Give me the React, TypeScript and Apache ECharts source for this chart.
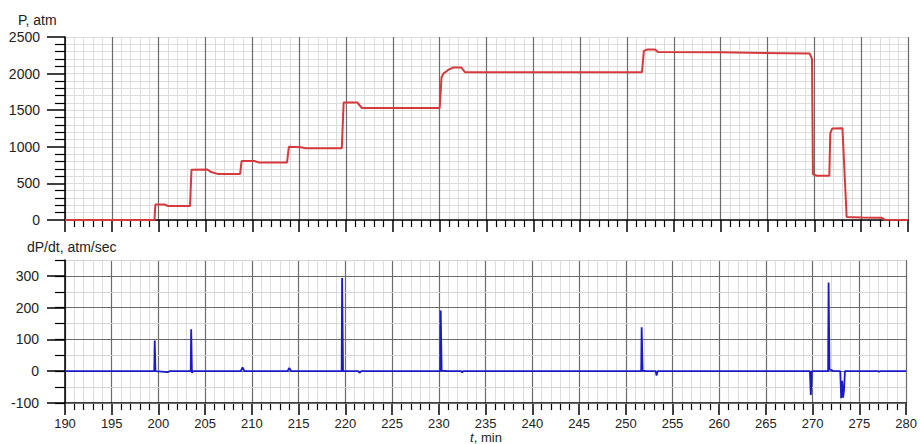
import React, { useEffect, useRef } from 'react';
import * as echarts from 'echarts';

// Time axis range (minutes)
const timeRange = [190, 280];
// Pressure axis range (atm) and derivative axis range (atm/sec)
const pRange = [0, 2500];
const dRange = [-100, 350];

// Pressure trace P(t)
const pTime = [
  190, 199.55, 199.65, 200.6, 201.0, 203.35, 203.5, 205.2, 205.6, 206.3, 208.7, 208.85,
  210.2, 210.7, 213.7, 213.9, 215.2, 215.7, 219.55, 219.75, 221.2, 221.7, 230.0, 230.2,
  230.4, 230.9, 231.5, 232.3, 232.7, 251.6, 251.8, 252.2, 253.0, 253.3, 260, 269.5,
  269.75, 269.85, 270.3, 271.6, 271.7, 271.9, 273.0, 273.45, 275, 277.2, 277.5, 280,
];
const pValue = [
  0, 0, 212, 212, 192, 192, 685, 690, 655, 630, 630, 805,
  805, 785, 785, 1000, 995, 980, 980, 1605, 1605, 1530, 1530, 1950,
  2000, 2050, 2085, 2085, 2020, 2020, 2310, 2330, 2330, 2295, 2290, 2275,
  2200, 625, 605, 605, 1180, 1250, 1255, 40, 35, 30, 5, 0,
];

// Derivative trace dP/dt
const dTime = [
  190, 199.55, 199.6, 199.68, 201.0, 201.2, 203.45, 203.5, 203.58, 203.7, 208.8, 209.0,
  209.2, 213.8, 214.0, 214.2, 219.6, 219.65, 219.75, 221.4, 221.5, 221.7, 230.15, 230.2,
  230.3, 231.0, 232.4, 232.5, 232.6, 251.65, 251.7, 251.8, 252.2, 253.2, 253.3, 253.4,
  269.7, 269.8, 269.9, 271.65, 271.7, 271.8, 272.1, 272.2, 272.95, 273.05, 273.15, 273.25,
  273.35, 273.45, 277.0, 277.1, 277.2, 280,
];
const dValue = [
  0, 0, 97, 0, -3, 0, 0, 132, -5, 0, 0, 12,
  0, 0, 10, 0, 0, 293, 0, 0, -5, 0, 0, 191,
  2, 0, 0, -4, 0, 0, 138, 2, 0, 0, -14, 0,
  0, -75, 0, 0, 279, 5, 3, 0, 0, -85, -30, -83,
  -60, 0, 0, -2, 0, 0,
];

const FONT = 'Liberation Sans, Arial, Helvetica, sans-serif';

export default function App() {
  const ref = useRef<HTMLDivElement>(null);

  useEffect(() => {
    if (!ref.current) return;
    const chart = echarts.init(ref.current, undefined, { renderer: 'svg' });

    const black = { color: '#000', width: 1.5 };
    const xAxisFor = (gridIndex: number, showLabel: boolean) => ({
      type: 'value',
      gridIndex,
      min: timeRange[0],
      max: timeRange[1],
      interval: 5,
      z: 0,
      axisLine: { show: true, onZero: false, lineStyle: black },
      axisTick: { show: true, length: 12, lineStyle: black },
      minorTick: { show: true, splitNumber: 5, length: 7, lineStyle: { color: '#000', width: 1.2 } },
      splitLine: { show: true, lineStyle: { color: '#6a6a6a', width: 1.2 } },
      minorSplitLine: { show: true, lineStyle: { color: '#dcdcdc', width: 1 } },
      axisLabel: {
        show: showLabel,
        margin: 13,
        fontSize: 13,
        lineHeight: 14,
        color: '#222',
        fontFamily: FONT,
        formatter: (v: number) => String(v),
      },
    });

    const option: any = {
      animation: false,
      backgroundColor: '#fff',
      grid: [
        { left: 65, top: 37, width: 843, height: 183 },
        { left: 65, top: 260, width: 843, height: 143 },
        { left: 65, top: 260 + (143 * 50) / 450, width: 843, height: (143 * 400) / 450 },
      ],
      xAxis: [
        xAxisFor(0, false),
        xAxisFor(1, true),
        { type: 'value', gridIndex: 2, min: timeRange[0], max: timeRange[1], show: false },
      ],
      yAxis: [
        {
          type: 'value',
          gridIndex: 0,
          min: pRange[0],
          max: pRange[1],
          interval: 500,
          z: 0,
          axisLine: { show: true, onZero: false, lineStyle: black },
          axisTick: { show: true, length: 18, lineStyle: black },
          minorTick: { show: true, splitNumber: 5, length: 10, lineStyle: { color: '#000', width: 1.2 } },
          splitLine: { show: true, lineStyle: { color: '#dcdcdc', width: 1 } },
          minorSplitLine: { show: true, lineStyle: { color: '#dcdcdc', width: 1 } },
          axisLabel: {
            margin: 25,
            fontSize: 14,
            color: '#222',
            fontFamily: FONT,
            formatter: (v: number) => String(v),
          },
        },
        {
          type: 'value',
          gridIndex: 1,
          min: dRange[0],
          max: dRange[1],
          interval: 50,
          z: 1,
          axisLine: { show: true, onZero: false, lineStyle: black },
          axisTick: { show: true, length: 10, lineStyle: { color: '#000', width: 1.2 } },
          splitLine: { show: true, lineStyle: { color: ['#6a6a6a', '#d4d4d4'], width: 1.2 } },
          axisLabel: {
            margin: 26,
            fontSize: 14,
            color: '#222',
            fontFamily: FONT,
            formatter: (v: number) => (Math.round(v) % 100 === 0 && v < 350 ? String(v) : ''),
          },
        },
        {
          type: 'value',
          gridIndex: 2,
          min: -100,
          max: 300,
          interval: 100,
          z: 1,
          axisLine: { show: false },
          axisTick: { show: true, length: 18, lineStyle: black },
          splitLine: { show: false },
          axisLabel: { show: false },
        },
      ],
      graphic: [
        {
          type: 'text',
          left: 18,
          top: 13,
          style: { text: 'P, atm', font: `14px ${FONT}`, fill: '#222' },
        },
        {
          type: 'text',
          left: 27,
          top: 240,
          style: { text: 'dP/dt, atm/sec', font: `14px ${FONT}`, fill: '#222' },
        },
        {
          type: 'text',
          x: 486,
          y: 443,
          style: {
            text: '{i|t}, min',
            font: `13px ${FONT}`,
            fill: '#222',
            align: 'center',
            verticalAlign: 'bottom',
            lineHeight: 12,
            rich: {
              i: { fontStyle: 'italic', fontSize: 13, lineHeight: 12, fontFamily: FONT, fill: '#222' },
            },
          },
        },
      ],
      series: [
        {
          type: 'line',
          xAxisIndex: 0,
          yAxisIndex: 0,
          data: pTime.map((t, i) => [t, pValue[i]]),
          showSymbol: false,
          symbol: 'none',
          lineStyle: { color: '#d63a3c', width: 2 },
          z: 5,
        },
        {
          type: 'line',
          xAxisIndex: 1,
          yAxisIndex: 1,
          data: dTime.map((t, i) => [t, dValue[i]]),
          showSymbol: false,
          symbol: 'none',
          lineStyle: { color: '#1a1ac8', width: 1.8 },
          z: 5,
        },
      ],
    };

    chart.setOption(option);
    return () => chart.dispose();
  }, []);

  return (
    <div
      ref={ref}
      style={{ position: 'fixed', left: 0, top: 0, width: 920, height: 444, background: '#fff' }}
    />
  );
}
